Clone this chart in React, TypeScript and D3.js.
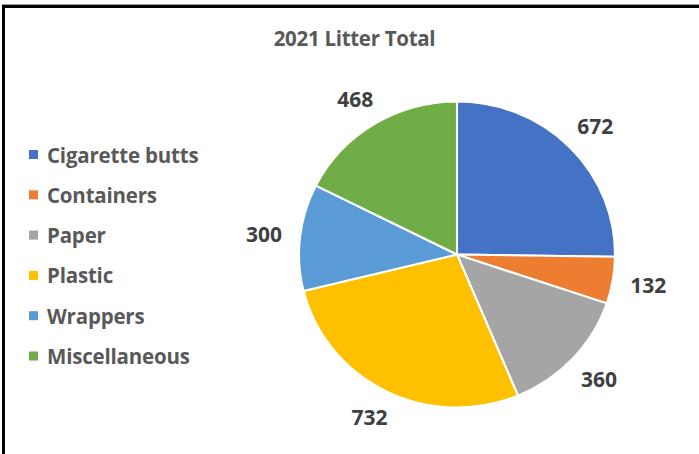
import React from "react";
import * as d3 from "d3";

const categories = ["Cigarette butts", "Containers", "Paper", "Plastic", "Wrappers", "Miscellaneous"];
const values = [672, 132, 360, 732, 300, 468];
const colors = ["#4472C4", "#ED7D31", "#A5A5A5", "#FFC000", "#5B9BD5", "#70AD47"];
const title = "2021 Litter Total";

export default function App() {
  const W = 699, H = 454;
  const cx = 457, cy = 254.5, r = 153, sx = 158 / 153;
  const pie = d3.pie<number>().sort(null).value((d) => d);
  const arcs = pie(values);
  const arc = d3.arc<d3.PieArcDatum<number>>().innerRadius(0).outerRadius(r);
  const labelR = 188;
  const font = "'Open Sans', Lato, sans-serif";
  return (
    <svg width={W} height={H} style={{ position: "absolute", left: 0, top: 0, background: "#fff" }}>
      <rect x={0} y={0} width={W} height={H} fill="#fff" />
      <line x1={2} x2={W} y1={4.5} y2={4.5} stroke="#999" strokeWidth={1} />
      <path d={`M3.5,${H} V6.5 H${W}`} fill="none" stroke="#000" strokeWidth={3} />
      <text x={354.5} y={38} textAnchor="middle" dominantBaseline="central" fontFamily={font} fontWeight={700} fontSize={20.5} fill="#595959" letterSpacing={-0.3}>
        {title}
      </text>
      <g transform={`translate(${cx},${cy}) scale(${sx},1)`}>
        {arcs.map((a, i) => (
          <path key={i} d={arc(a) || ""} fill={colors[i]} stroke="#fff" strokeWidth={2} strokeLinejoin="round" />
        ))}
      </g>
      {arcs.map((a, i) => {
        const mid = (a.startAngle + a.endAngle) / 2;
        const x = cx + Math.sin(mid) * labelR * sx;
        const y = cy - Math.cos(mid) * labelR * 0.97;
        return (
          <text key={i} x={x} y={y} textAnchor="middle" dominantBaseline="central" fontFamily={font} fontWeight={700} fontSize={21} fill="#404040">
            {values[i]}
          </text>
        );
      })}
      {categories.map((c, i) => {
        const y = 154.5 + i * 40.3;
        return (
          <g key={c}>
            <rect x={29} y={y - 4.5} width={9} height={9} fill={colors[i]} />
            <text x={47} y={y} dominantBaseline="central" fontFamily={font} fontWeight={700} fontSize={20.5} fill="#595959" letterSpacing={-0.2}>
              {c}
            </text>
          </g>
        );
      })}
    </svg>
  );
}
